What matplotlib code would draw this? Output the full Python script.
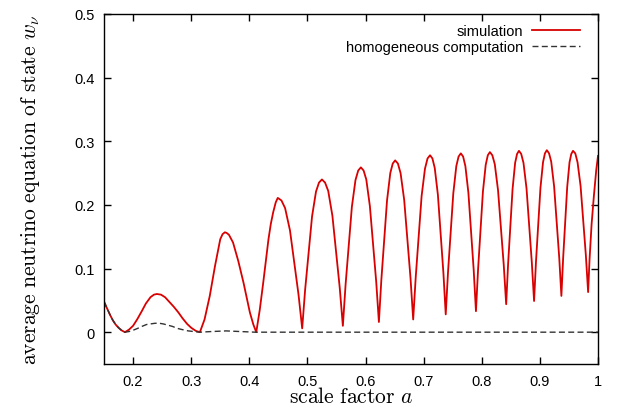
import matplotlib
matplotlib.use("Agg")
import matplotlib.pyplot as plt
from matplotlib.ticker import FuncFormatter

# ---- data ----
sim_a = [0.150, 0.155, 0.160, 0.165, 0.170, 0.175, 0.180, 0.186,
         0.193, 0.200, 0.207, 0.215, 0.222, 0.230, 0.236, 0.241, 0.248, 0.255, 0.262,
         0.270, 0.278, 0.285, 0.293, 0.300, 0.308, 0.315,
         0.323, 0.332, 0.341, 0.350, 0.354, 0.358, 0.361, 0.365, 0.372, 0.381, 0.390, 0.401, 0.407, 0.412,
         0.418, 0.424, 0.429, 0.433, 0.437, 0.441, 0.4455, 0.449,
         0.4553, 0.4616, 0.470, 0.4784, 0.4847, 0.491,
         0.4961, 0.5012, 0.508, 0.5148, 0.5199, 0.525, 0.5304, 0.5358, 0.543, 0.5502, 0.5556, 0.561,
         0.5657, 0.5703, 0.5765, 0.5827, 0.5874, 0.592, 0.5967, 0.6013, 0.6075, 0.6137, 0.6184, 0.623,
         0.6272, 0.6314, 0.637, 0.6426, 0.6468, 0.651, 0.6557, 0.6603, 0.6665, 0.6727, 0.6774, 0.682,
         0.6864, 0.6907, 0.6965, 0.7023, 0.7067, 0.711, 0.7151, 0.7191, 0.7245, 0.7299, 0.734, 0.738,
         0.7419, 0.7458, 0.751, 0.7562, 0.7601, 0.764, 0.7679, 0.7718, 0.777, 0.7822, 0.7861, 0.790,
         0.7936, 0.7972, 0.802, 0.8068, 0.8104, 0.814, 0.8182, 0.8224, 0.828, 0.8336, 0.8378, 0.842,
         0.8453, 0.8486, 0.853, 0.8574, 0.8607, 0.864, 0.8679, 0.8718, 0.877, 0.8822, 0.8861, 0.890,
         0.8933, 0.8966, 0.901, 0.9054, 0.9087, 0.912, 0.9158, 0.9195, 0.9245, 0.9295, 0.9333, 0.937,
         0.940, 0.943, 0.947, 0.951, 0.954, 0.957, 0.9609, 0.9648, 0.970, 0.9752, 0.9791, 0.983,
         0.9855, 0.989, 0.993, 0.997, 1.000]
sim_w = [0.048, 0.038, 0.028, 0.019, 0.012, 0.007, 0.003, 0.000,
         0.004, 0.010, 0.020, 0.033, 0.045, 0.055, 0.059, 0.060, 0.059, 0.055, 0.048,
         0.040, 0.031, 0.022, 0.013, 0.007, 0.002, 0.000,
         0.020, 0.057, 0.104, 0.146, 0.154, 0.157, 0.156, 0.153, 0.141, 0.112, 0.078, 0.031, 0.012, 0.000,
         0.035, 0.078, 0.116, 0.146, 0.170, 0.188, 0.204, 0.211,
         0.207, 0.195, 0.160, 0.102, 0.059, 0.006,
         0.067, 0.116, 0.182, 0.221, 0.235, 0.240, 0.235, 0.222, 0.183, 0.118, 0.070, 0.010,
         0.075, 0.127, 0.197, 0.239, 0.254, 0.259, 0.254, 0.240, 0.198, 0.130, 0.079, 0.016,
         0.082, 0.135, 0.207, 0.250, 0.265, 0.270, 0.265, 0.250, 0.208, 0.138, 0.085, 0.020,
         0.087, 0.141, 0.214, 0.257, 0.273, 0.278, 0.273, 0.258, 0.216, 0.146, 0.093, 0.028,
         0.094, 0.147, 0.218, 0.261, 0.276, 0.281, 0.276, 0.261, 0.219, 0.150, 0.098, 0.033,
         0.098, 0.151, 0.221, 0.263, 0.278, 0.283, 0.278, 0.264, 0.223, 0.156, 0.106, 0.044,
         0.107, 0.157, 0.225, 0.266, 0.280, 0.285, 0.280, 0.266, 0.226, 0.160, 0.110, 0.049,
         0.111, 0.160, 0.227, 0.267, 0.281, 0.286, 0.281, 0.268, 0.229, 0.165, 0.117, 0.057,
         0.116, 0.164, 0.228, 0.267, 0.280, 0.285, 0.281, 0.267, 0.230, 0.167, 0.121, 0.063,
         0.115, 0.170, 0.215, 0.255, 0.277]

hom_a = [0.150, 0.155, 0.160, 0.165, 0.170, 0.175, 0.180, 0.186, 0.193, 0.200,
         0.208, 0.215, 0.223, 0.230, 0.238, 0.245, 0.252, 0.260, 0.268, 0.276,
         0.285, 0.295, 0.305, 0.315, 0.335, 0.360, 0.385, 0.410, 1.000]
hom_w = [0.048, 0.038, 0.028, 0.019, 0.012, 0.007, 0.003, 0.000, 0.001, 0.003,
         0.006, 0.009, 0.012, 0.013, 0.014, 0.014, 0.013, 0.011, 0.009, 0.006,
         0.004, 0.002, 0.001, 0.000, 0.001, 0.002, 0.001, 0.000, 0.000]

xticks = [0.2, 0.3, 0.4, 0.5, 0.6, 0.7, 0.8, 0.9, 1.0]
yticks = [0.0, 0.1, 0.2, 0.3, 0.4, 0.5]

plt.rcParams['mathtext.fontset'] = 'cm'
plt.rcParams['font.family'] = ['Liberation Sans', 'DejaVu Sans']

fig = plt.figure(figsize=(6.17, 4.10), dpi=100)
ax = fig.add_axes([104/617, 1-365/410, (598-104)/617, (365-15)/410])

ax.plot(sim_a, sim_w, color='#d80000', lw=1.3, label='simulation',
        solid_joinstyle='round')
ax.plot(hom_a, hom_w, color='#333333', lw=1.0, dashes=(4.3, 2.4),
        label='homogeneous computation')

ax.set_xlim(0.15, 1.0)
ax.set_ylim(-0.05, 0.5)
ax.set_xticks(xticks)
ax.set_yticks(yticks)
fmt = FuncFormatter(lambda v, p: '%g' % round(v, 3))
ax.xaxis.set_major_formatter(fmt)
ax.yaxis.set_major_formatter(fmt)
ax.tick_params(direction='in', length=5, width=1.0, top=True, right=True,
               labelsize=10.5, pad=7, colors='black')
for s in ax.spines.values():
    s.set_linewidth(1.0)

ax.set_xlabel(r'$\mathrm{scale\ factor}\ a$', fontsize=15.5, labelpad=-1)
ax.set_ylabel(r'$\mathrm{average\ neutrino\ equation\ of\ state}\ w_\nu$',
              fontsize=15.5, labelpad=23)

leg = ax.legend(loc='upper right', frameon=False, markerfirst=False,
                fontsize=10.5, handlelength=3.3, handletextpad=0.6,
                labelspacing=0.1, borderaxespad=0.3,
                bbox_to_anchor=(0.985, 1.0))

fig.savefig('out.png', dpi=100)
